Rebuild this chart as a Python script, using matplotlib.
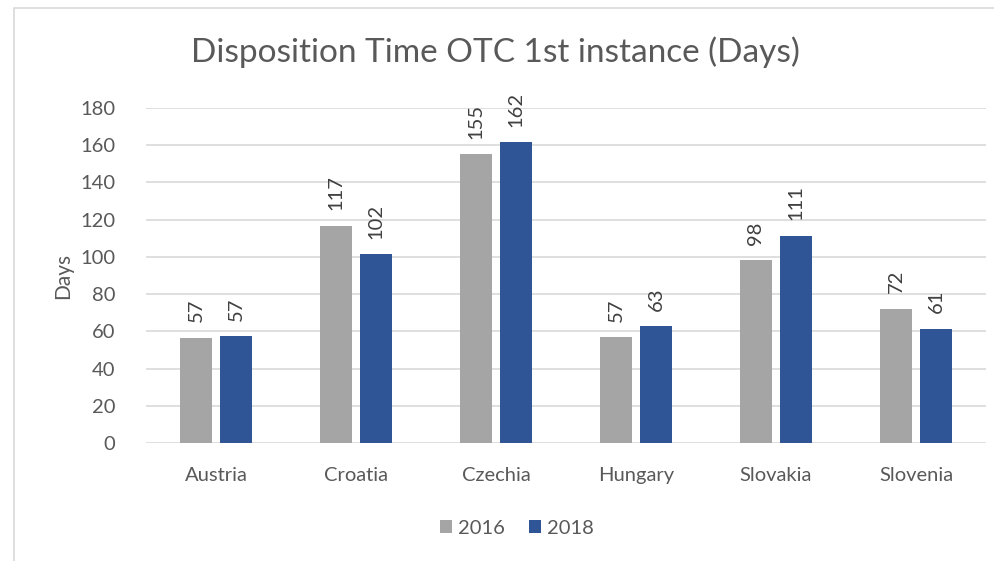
import matplotlib.pyplot as plt
import numpy as np
from matplotlib.patches import Rectangle

countries = ["Austria", "Croatia", "Czechia", "Hungary", "Slovakia", "Slovenia"]
days_2016 = [56.6, 116.8, 155.2, 56.8, 98.3, 72.2]
days_2018 = [57.3, 101.6, 161.6, 62.7, 111.4, 61.4]
series_labels = ["2016", "2018"]
y_ticks = [0, 20, 40, 60, 80, 100, 120, 140, 160, 180]

GRAY = "#A5A5A5"
BLUE = "#2F5597"
TEXT = "#595959"

plt.rcParams["font.family"] = ["Lato", "DejaVu Sans"]

fig = plt.figure(figsize=(9.95, 5.61), dpi=100)
fig.patches.append(Rectangle((14 / 995, -0.1), 1.1, (561 - 8) / 561 + 0.1,
                             transform=fig.transFigure, fill=False,
                             edgecolor="#D9D9D9", linewidth=1.2))

ax = fig.add_axes([146 / 995, (561 - 443) / 561, (986 - 146) / 995, (443 - 108) / 561])

x = np.arange(len(countries))
width = 32 / 140
gap = 8 / 140
off = (width + gap) / 2

b1 = ax.bar(x - off, days_2016, width, color=GRAY, label=series_labels[0], zorder=3)
b2 = ax.bar(x + off, days_2018, width, color=BLUE, label=series_labels[1], zorder=3)

for bars in (b1, b2):
    for rect in bars:
        h = rect.get_height()
        ax.annotate(f"{h:.0f}", (rect.get_x() + rect.get_width() / 2, h),
                    xytext=(0, 11), textcoords="offset points",
                    ha="center", va="bottom", rotation=90,
                    fontsize=14.5, color="#404040")

ax.set_xlim(-0.5, len(countries) - 0.5)
ax.set_ylim(0, 180)
ax.set_yticks(y_ticks)
ax.set_xticks(x)
ax.set_xticklabels(countries)
ax.tick_params(axis="both", length=0, labelsize=14.5, colors=TEXT)
ax.tick_params(axis="x", pad=17)
ax.tick_params(axis="y", pad=22)
ax.grid(axis="y", color="#D9D9D9", linewidth=1.2, zorder=0)
for s in ax.spines.values():
    s.set_visible(False)

ax.set_ylabel("Days", fontsize=15, color=TEXT, labelpad=5)
fig.text(495 / 995, 1 - 52 / 561, "Disposition Time OTC 1st instance (Days)",
         ha="center", va="center", fontsize=24, color=TEXT)

fig.legend(loc="center", bbox_to_anchor=(517 / 995, 1 - 528 / 561), ncol=2,
           frameon=False, fontsize=14.5, labelcolor=TEXT,
           handlelength=0.6, handleheight=0.6, handletextpad=0.3, columnspacing=1.2)

fig.savefig("out.png", dpi=100)
